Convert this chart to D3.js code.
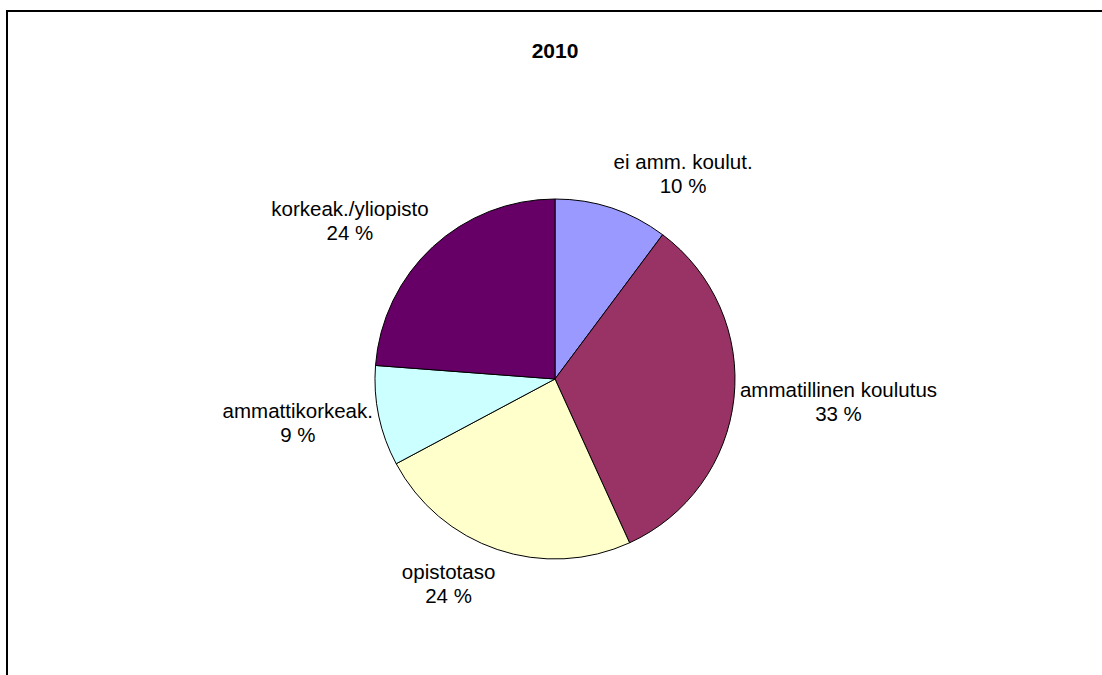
<!DOCTYPE html>
<html>
<head>
<meta charset="utf-8">
<script src="https://cdn.jsdelivr.net/npm/d3@7"></script>
<style>
    html, body { margin: 0; padding: 0; background: #fff; }
    svg { display: block; }
    text { font-family: "Liberation Sans", Arial, sans-serif; fill: #000; }
</style>
</head>
<body>
<div id="chart"></div>
<script>
// education level shares, 2010 (read clockwise from 12 o'clock)
const categories = ['ei amm. koulut.', 'ammatillinen koulutus', 'opistotaso', 'ammattikorkeak.', 'korkeak./yliopisto'];
const values = [10.2, 33.0, 24.0, 9.0, 23.8];
const colors = ['#9999FF', '#993366', '#FFFFCC', '#CCFFFF', '#660066'];
const title = '2010';

const width = 1102;
const height = 675;
const cx = 555;
const cy = 379;
const radius = 180;

const svg = d3.select('#chart')
    .append('svg')
    .attr('width', width)
    .attr('height', height);

// frame: only top and left edges are visible
svg.append('line')
    .attr('x1', 6).attr('y1', 11).attr('x2', width).attr('y2', 11)
    .attr('stroke', '#000').attr('stroke-width', 2);
svg.append('line')
    .attr('x1', 7).attr('y1', 10).attr('x2', 7).attr('y2', height)
    .attr('stroke', '#000').attr('stroke-width', 2);

svg.append('text')
    .attr('x', cx)
    .attr('y', 58)
    .attr('text-anchor', 'middle')
    .attr('font-size', '21px')
    .attr('font-weight', 'bold')
    .text(title);

const pieData = d3.pie().sort(null).value(d => d)(values);

const arc = d3.arc().innerRadius(0).outerRadius(radius);

const g = svg.append('g').attr('transform', `translate(${cx},${cy})`);

g.selectAll('path')
    .data(pieData)
    .join('path')
    .attr('d', arc)
    .attr('fill', (d, i) => colors[i])
    .attr('stroke', '#000')
    .attr('stroke-width', 1);

// labels placed just outside the slice, box pushed away from the pie
const labelR = radius + 6;
const lineGap = 24;

const labels = g.selectAll('g.label')
    .data(pieData)
    .join('g')
    .attr('class', 'label');

labels.each(function(d, i) {
    const sel = d3.select(this);
    const a = (d.startAngle + d.endAngle) / 2;
    const ax = Math.sin(a) * labelR;
    const ay = -Math.cos(a) * labelR;

    const t1 = sel.append('text')
        .attr('text-anchor', 'middle')
        .attr('font-size', '20.5px')
        .text(categories[i]);
    const t2 = sel.append('text')
        .attr('text-anchor', 'middle')
        .attr('font-size', '20.5px')
        .text(Math.round(d.value) + ' %');

    const w = Math.max(t1.node().getComputedTextLength(), t2.node().getComputedTextLength());
    const x = ax + Math.sign(Math.sin(a)) * w / 2;
    const midY = ay - Math.cos(a) * 30 + 7;

    t1.attr('x', x).attr('y', midY - lineGap / 2);
    t2.attr('x', x).attr('y', midY + lineGap / 2);
});
</script>
</body>
</html>
